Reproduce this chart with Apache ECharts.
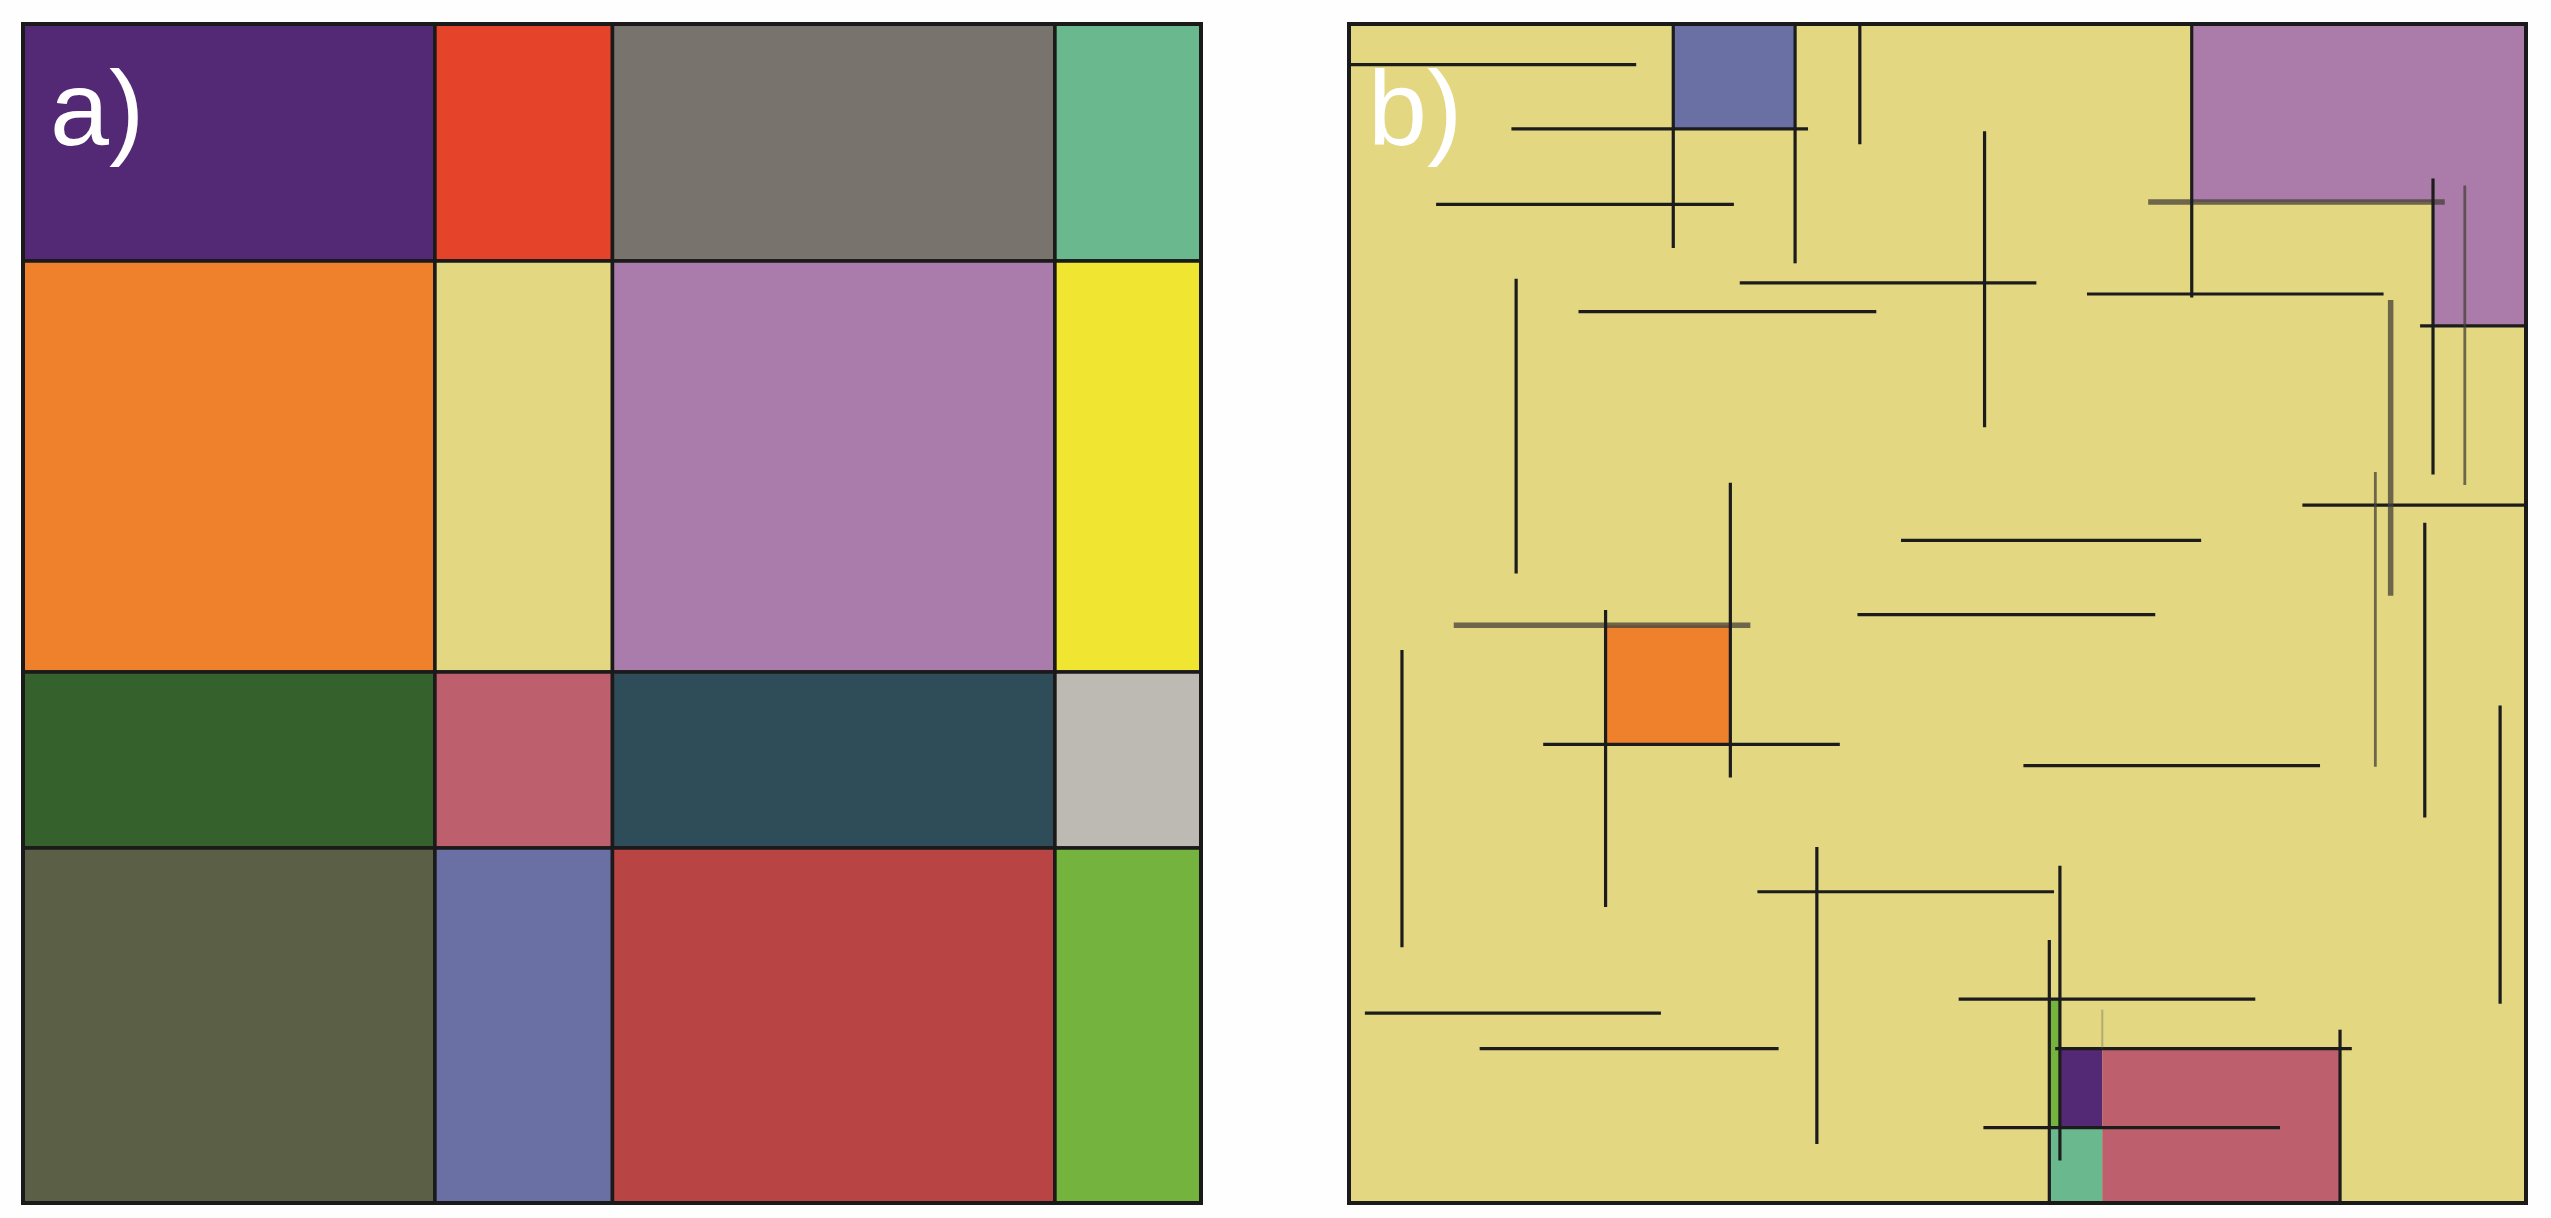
<!DOCTYPE html>
<html>
<head>
<meta charset="utf-8">
<script src="https://cdn.jsdelivr.net/npm/echarts@6/dist/echarts.min.js"></script>
<style>
html,body{margin:0;padding:0;background:#fefefe;}
#chart{width:2551px;height:1218px;}
</style>
</head>
<body>
<div id="chart"></div>
<script>
// ---------- Panel a: partition of the square (0..100 units) ----------
const colBounds = [0, 34.97, 50.04, 87.6, 100];
const rowBounds = [0, 20.1, 54.96, 69.9, 100];
const cellColors = [
  ['#532875', '#e5432a', '#78736c', '#6ab98e'],
  ['#ef812c', '#e3d782', '#aa7cac', '#f0e632'],
  ['#35612c', '#bd5f6d', '#2e4d59', '#bdb9b3'],
  ['#5b5f45', '#6a6fa4', '#b84443', '#74b33d']
];

// ---------- Panel b: coloured cells [u0, v0, u1, v1] ----------
const bRects = [
  [27.55, 0, 37.9, 8.9],
  [71.6, 0, 100, 15.1],
  [92.1, 15.1, 100, 25.6],
  [21.8, 51.0, 32.4, 61.1],
  [59.5, 82.7, 60.4, 93.6],
  [60.4, 86.9, 64.0, 93.6],
  [59.5, 93.6, 64.0, 100],
  [64.0, 86.9, 84.2, 100]
];
const bRectColors = ['#6a6fa4', '#ab7caa', '#ab7caa', '#ef812c', '#74b33d', '#532875', '#6ab98e', '#bd5f6d'];
const bBackground = '#e3d782';

// horizontal needles [v, u0, u1]
const hSegs = [
  [3.45, 0, 24.4],
  [8.9, 13.8, 39.0],
  [15.3, 7.4, 32.7],
  [21.95, 33.2, 58.4],
  [24.4, 19.5, 44.8],
  [43.8, 46.9, 72.4],
  [50.1, 43.2, 68.5],
  [15.1, 67.9, 93.1],
  [22.9, 62.7, 87.9],
  [25.6, 91.0, 100],
  [40.8, 81.0, 100],
  [51.0, 8.9, 34.1],
  [61.1, 16.5, 41.7],
  [73.6, 34.7, 59.9],
  [83.9, 1.35, 26.5],
  [86.9, 11.1, 36.5],
  [62.9, 57.3, 82.5],
  [82.7, 51.8, 77.0],
  [86.9, 60.0, 85.2],
  [93.6, 53.9, 79.1]
];
// vertical needles [u, v0, v1]
const vSegs = [
  [27.55, 0, 19.0],
  [37.9, 0, 20.3],
  [43.4, 0, 10.2],
  [14.2, 21.6, 46.6],
  [32.4, 38.9, 63.9],
  [21.8, 49.7, 74.9],
  [54.0, 9.1, 34.2],
  [71.6, 0, 23.2],
  [92.1, 13.1, 38.2],
  [94.8, 13.7, 39.1],
  [88.5, 23.4, 48.5],
  [87.2, 38.0, 63.0],
  [91.4, 42.3, 67.3],
  [4.5, 53.1, 78.3],
  [39.75, 69.8, 95.0],
  [97.8, 57.8, 83.1],
  [60.4, 71.4, 96.4],
  [59.5, 77.7, 100],
  [84.2, 85.3, 100],
  [64.0, 83.6, 86.9]
];
// style overrides (index -> kind)
const hStyleKind = {7: 'thick', 11: 'thick'};
const vStyleKind = {9: 'thin', 10: 'thick', 11: 'thin', 19: 'faint'};
const segStyles = {
  normal: {stroke: '#1c1c1c', lineWidth: 3.2},
  thick: {stroke: 'rgba(70,64,56,0.75)', lineWidth: 5.5},
  thin: {stroke: 'rgba(70,66,55,0.75)', lineWidth: 2.8},
  faint: {stroke: 'rgba(90,90,80,0.35)', lineWidth: 2}
};

// ---------- build series data ----------
const aCells = [];
for (let r = 0; r < 4; r++) {
  for (let c = 0; c < 4; c++) {
    aCells.push({
      value: [colBounds[c], rowBounds[r], colBounds[c + 1], rowBounds[r + 1]],
      itemStyle: {color: cellColors[r][c]}
    });
  }
}
const bCells = [{value: [0, 0, 100, 100], itemStyle: {color: bBackground}}].concat(
  bRects.map((q, i) => ({value: q, itemStyle: {color: bRectColors[i]}}))
);
const segData = [];
hSegs.forEach((s, i) => segData.push({value: [s[1], s[0], s[2], s[0]], kind: hStyleKind[i] || 'normal'}));
vSegs.forEach((s, i) => segData.push({value: [s[0], s[1], s[0], s[2]], kind: vStyleKind[i] || 'normal'}));

function rectItem(params, api, stroke, lw) {
  const p0 = api.coord([api.value(0), api.value(1)]);
  const p1 = api.coord([api.value(2), api.value(3)]);
  return {
    type: 'rect',
    shape: {
      x: Math.min(p0[0], p1[0]), y: Math.min(p0[1], p1[1]),
      width: Math.abs(p1[0] - p0[0]), height: Math.abs(p1[1] - p0[1])
    },
    style: {fill: api.visual('color'), stroke: stroke, lineWidth: lw}
  };
}

const chart = echarts.init(document.getElementById('chart'), null, {renderer: 'canvas'});
const axisHidden = {type: 'value', min: 0, max: 100, show: false};
chart.setOption({
  animation: false,
  backgroundColor: '#fefefe',
  grid: [
    {left: 23, top: 24, width: 1178, height: 1179},
    {left: 1349, top: 24, width: 1177, height: 1179}
  ],
  xAxis: [Object.assign({gridIndex: 0}, axisHidden), Object.assign({gridIndex: 1}, axisHidden)],
  yAxis: [Object.assign({gridIndex: 0, inverse: true}, axisHidden), Object.assign({gridIndex: 1, inverse: true}, axisHidden)],
  series: [
    {
      type: 'custom', xAxisIndex: 0, yAxisIndex: 0,
      renderItem: (p, api) => rectItem(p, api, '#1a1a1a', 3.5),
      data: aCells
    },
    {
      type: 'custom', xAxisIndex: 0, yAxisIndex: 0, z: 3,
      renderItem: function (p, api) {
        const p0 = api.coord([0, 0]); const p1 = api.coord([100, 100]);
        return {type: 'rect', shape: {x: p0[0], y: p0[1], width: p1[0] - p0[0], height: p1[1] - p0[1]},
          style: {fill: 'none', stroke: '#1a1a1a', lineWidth: 4}};
      },
      data: [[0, 0]]
    },
    {
      type: 'custom', xAxisIndex: 1, yAxisIndex: 1,
      renderItem: (p, api) => rectItem(p, api, 'none', 0),
      data: bCells
    },
    {
      type: 'custom', xAxisIndex: 1, yAxisIndex: 1, z: 3,
      renderItem: function (p, api) {
        const item = segData[p.dataIndex];
        const p0 = api.coord([api.value(0), api.value(1)]);
        const p1 = api.coord([api.value(2), api.value(3)]);
        const st = segStyles[item.kind];
        return {type: 'line', shape: {x1: p0[0], y1: p0[1], x2: p1[0], y2: p1[1]},
          style: {stroke: st.stroke, lineWidth: st.lineWidth, lineCap: 'butt'}};
      },
      data: segData
    },
    {
      type: 'custom', xAxisIndex: 1, yAxisIndex: 1, z: 4,
      renderItem: function (p, api) {
        const p0 = api.coord([0, 0]); const p1 = api.coord([100, 100]);
        return {type: 'rect', shape: {x: p0[0], y: p0[1], width: p1[0] - p0[0], height: p1[1] - p0[1]},
          style: {fill: 'none', stroke: '#1a1a1a', lineWidth: 4}};
      },
      data: [[0, 0]]
    }
  ],
  graphic: [
    {type: 'text', z: 100, style: {x: 50, y: 116, text: 'a)', fill: '#ffffff',
      font: '106px "Liberation Sans", Arial, sans-serif', textVerticalAlign: 'middle'}},
    {type: 'text', z: 100, style: {x: 1368, y: 116, text: 'b)', fill: '#ffffff',
      font: '106px "Liberation Sans", Arial, sans-serif', textVerticalAlign: 'middle'}}
  ]
});
</script>
</body>
</html>
